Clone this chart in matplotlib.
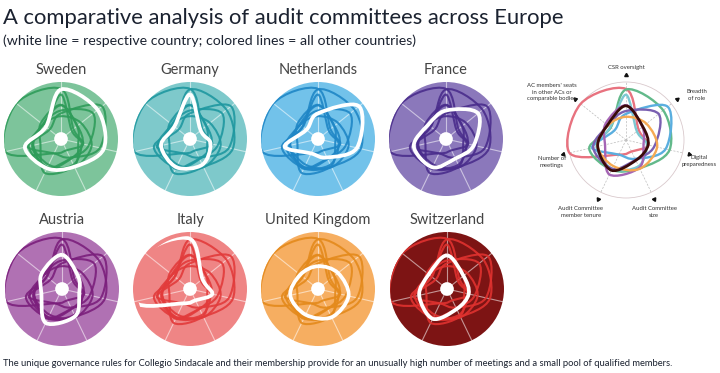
import numpy as np
import matplotlib
matplotlib.use("Agg")
import matplotlib.pyplot as plt
from matplotlib.path import Path
from matplotlib.patches import PathPatch, Circle

plt.rcParams['font.family'] = ['Lato', 'DejaVu Sans']

# axes, clockwise from top
axes_labels = ["CSR oversight", "Breadth\nof role", "Digital\npreparedness",
               "Audit Committee\nsize", "Audit Committee\nmember tenure",
               "Number of\nmeetings", "AC members' seats\nin other ACs or\ncomparable bodies"]

countries = ["Sweden", "Germany", "Netherlands", "France",
             "Austria", "Italy", "United Kingdom", "Switzerland"]

# values relative to the outer ring
sweden = [0.87, 0.82, 0.77, 0.54, 0.57, 0.65, 0.34]
germany = [0.78, 0.24, 0.37, 0.50, 0.55, 0.52, 0.35]
netherlands = [0.45, 0.92, 0.70, 0.36, 0.28, 0.60, 0.26]
france = [0.50, 0.72, 0.50, 0.38, 0.55, 0.58, 0.40]
austria = [0.60, 0.36, 0.31, 0.53, 0.66, 0.37, 0.45]
italy = [0.88, 0.28, 0.40, 0.22, 0.28, 1.00, 1.00]
uk = [0.40, 0.45, 0.55, 0.55, 0.50, 0.50, 0.40]
switzerland = [0.59, 0.37, 0.39, 0.39, 0.58, 0.50, 0.41]

values = [sweden, germany, netherlands, france, austria, italy, uk, switzerland]

disc_col = ['#7dc49b', '#7ec9cb', '#72c2ea', '#8b78bb', '#b071b3', '#ef8585', '#f6ae61', '#7d1414']
line_col = ['#2f9c5a', '#1f98a0', '#1f86c6', '#4a2d8c', '#7b1f7c', '#e23b3b', '#e48a1c', '#e0322f']
legend_col = ['#62b98a', '#7cc8d2', '#5aaedf', '#7a5fb0', '#a565b5', '#e8727f', '#f5a953', '#3a0a0a']
# the white line fades out where it leaves the disc (Italy runs off the edge)
white_clip = [1.0, 1.0, 1.0, 1.0, 1.0, 0.93, 1.0, 1.0]

n = len(axes_labels)
ang = np.arange(n) * 2 * np.pi / n


def smooth_path(vals):
    # closed Catmull-Rom curve as cubic Bezier segments
    x = np.array(vals) * np.sin(ang)
    y = np.array(vals) * np.cos(ang)
    P = np.column_stack([x, y])
    verts = [P[0]]
    codes = [Path.MOVETO]
    for i in range(n):
        p0, p1, p2, p3 = P[i - 1], P[i], P[(i + 1) % n], P[(i + 2) % n]
        c1 = p1 + (p2 - p0) / 6.0
        c2 = p2 - (p3 - p1) / 6.0
        verts += [c1, c2, p2]
        codes += [Path.CURVE4] * 3
    return Path(verts, codes)


W, H = 720, 373
fig = plt.figure(figsize=(7.2, 3.73), dpi=100)

fig.text(3 / W, 1 - 18 / H, "A comparative analysis of audit committees across Europe",
         fontsize=15.8, color='#1b2230', va='center', ha='left')
fig.text(3 / W, 1 - 41 / H, "(white line = respective country; colored lines = all other countries)",
         fontsize=10.2, color='#1b2230', va='center', ha='left')
fig.text(3 / W, 1 - 363 / H,
         "The unique governance rules for Collegio Sindacale and their membership provide for an "
         "unusually high number of meetings and a small pool of qualified members.",
         fontsize=6.75, color='#1b2230', va='center', ha='left')

centers = [(61, 139), (190, 139), (318, 139), (446, 139),
           (62, 289), (190, 289), (318, 289), (447, 289)]
R = 57
lim = 1.15

for k, name in enumerate(countries):
    cx, cy = centers[k]
    size = 2 * lim * R
    ax = fig.add_axes([(cx - size / 2) / W, 1 - (cy + size / 2) / H, size / W, size / H])
    ax.set_xlim(-lim, lim)
    ax.set_ylim(-lim, lim)
    ax.set_aspect('equal')
    ax.axis('off')
    disc = Circle((0, 0), 1.0, facecolor=disc_col[k], edgecolor='none', zorder=1)
    ax.add_patch(disc)
    for a in ang:
        ax.plot([0, np.sin(a)], [0, np.cos(a)], color='white', lw=0.8, alpha=0.55, zorder=2)
    for j in range(len(countries)):
        if j == k:
            continue
        p = PathPatch(smooth_path(values[j]), fill=False, edgecolor=line_col[k],
                      lw=1.5, alpha=0.9, zorder=3)
        ax.add_patch(p)
        p.set_clip_path(disc)
    clip = Circle((0, 0), white_clip[k], facecolor='none', edgecolor='none')
    ax.add_patch(clip)
    p = PathPatch(smooth_path(values[k]), fill=False, edgecolor='white', lw=2.7, zorder=4)
    ax.add_patch(p)
    p.set_clip_path(clip)
    ax.add_patch(Circle((0, 0), 0.12, facecolor='white', edgecolor='none', zorder=5))
    fig.text(cx / W, 1 - (cy - R - 5) / H, name, fontsize=10.5, color='#444444',
             ha='center', va='bottom')

# key radar on the right
cx, cy, R2 = 626, 140, 58
lim2 = 2.0
size = 2 * lim2 * R2
ax = fig.add_axes([(cx - size / 2) / W, 1 - (cy + size / 2) / H, size / W, size / H])
ax.set_xlim(-lim2, lim2)
ax.set_ylim(-lim2, lim2)
ax.set_aspect('equal')
ax.axis('off')
ax.add_patch(Circle((0, 0), 1.0, facecolor='white', edgecolor='#d9c9cc', lw=0.6, zorder=1))
for a in ang:
    ax.plot([0, np.sin(a)], [0, np.cos(a)], color='#bbbbbb', lw=0.5, ls=(0, (3, 2)), zorder=1)
order = [5, 0, 1, 2, 3, 4, 6, 7]
for j in order:
    lw = 2.0 if j == 7 else 1.7
    ax.add_patch(PathPatch(smooth_path(values[j]), fill=False, edgecolor=legend_col[j],
                           lw=lw, zorder=3))
for i, a in enumerate(ang):
    ax.plot(1.12 * np.sin(a), 1.12 * np.cos(a), marker=(3, 0, -np.degrees(a)),
            color='#111111', ms=3, zorder=4)

label_pos = [(626, 67), (697, 95), (699, 161), (654, 212), (581, 212), (552, 162), (552, 92)]
for lab, (lx, ly) in zip(axes_labels, label_pos):
    fig.text(lx / W, 1 - ly / H, lab, fontsize=4.3, color='#333333', ha='center', va='center',
             linespacing=1.4)

fig.savefig("out.png", dpi=100)
